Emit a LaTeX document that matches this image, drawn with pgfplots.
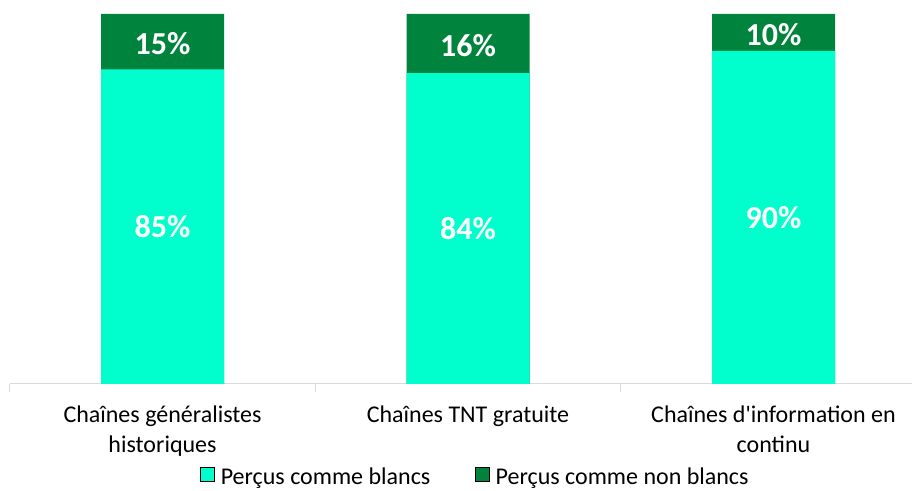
\documentclass[border=0pt]{standalone}
\usepackage{pgfplots}
\pgfplotsset{compat=1.18}
\usepackage{fontspec}
\setmainfont{Carlito}
\newfontfamily\noapo{Carlito}
\definecolor{lightc}{HTML}{00FFCC}
\definecolor{darkc}{HTML}{00843D}
\definecolor{axgray}{HTML}{D9D9D9}
\begin{document}
\begin{tikzpicture}
\path[use as bounding box] (0,0) rectangle (912bp,491bp);
\begin{axis}[
  at={(9.75bp,107bp)}, anchor=south west,
  scale only axis, width=916.5bp, height=370bp,
  xmin=-0.5, xmax=2.5, ymin=0, ymax=100,
  axis y line=none,
  axis x line*=bottom,
  x axis line style={draw=axgray, line width=1bp, -},
  xtick={0,1,2},
  xticklabels={{Chaînes généralistes\\historiques},{Chaînes TNT gratuite},{Chaînes d{\noapo'}information en\\continu}},
  major x tick style={draw=none},
  extra x ticks={-0.5,0.5,1.5,2.5},
  extra x tick labels={},
  extra x tick style={major tick length=8bp, tick align=outside, major x tick style={draw=axgray, line width=1bp}},
  xticklabel style={align=center, font=\fontsize{24bp}{30bp}\selectfont, text=black, yshift=-18bp},
  clip=false,
  legend style={at={(0.5076,-0.251)}, anchor=center, draw=none, fill=none,
    legend columns=2, font=\fontsize{24bp}{28bp}\selectfont,
    /tikz/every even column/.append style={column sep=44bp},
    nodes={inner sep=1bp}},
  legend image code/.code={\fill[#1] (0bp,-4bp) rectangle (14bp,10bp); \path (19bp,0bp);},
]
\addlegendimage{fill=lightc}
\addlegendentry{Perçus comme blancs}
\addlegendimage{fill=darkc}
\addlegendentry{Perçus comme non blancs}
\addplot[ybar, bar width=123bp, bar shift=0pt, fill=darkc, draw=none, forget plot] coordinates {(0,100) (1,100) (2,100)};
\addplot[ybar, bar width=123bp, bar shift=0pt, fill=lightc, draw=none, forget plot] coordinates {(0,85) (1,84) (2,90)};
\addplot[draw=none, mark=none, forget plot, nodes near coords, point meta=explicit symbolic,
  every node near coord/.style={anchor=center, text=white, font=\bfseries\fontsize{32bp}{32bp}\selectfont}]
  coordinates {(0,42.5)[85\%] (1,42)[84\%] (2,45)[90\%] (0,92)[15\%] (1,91.5)[16\%] (2,94.5)[10\%]};
\end{axis}
\end{tikzpicture}
\end{document}
